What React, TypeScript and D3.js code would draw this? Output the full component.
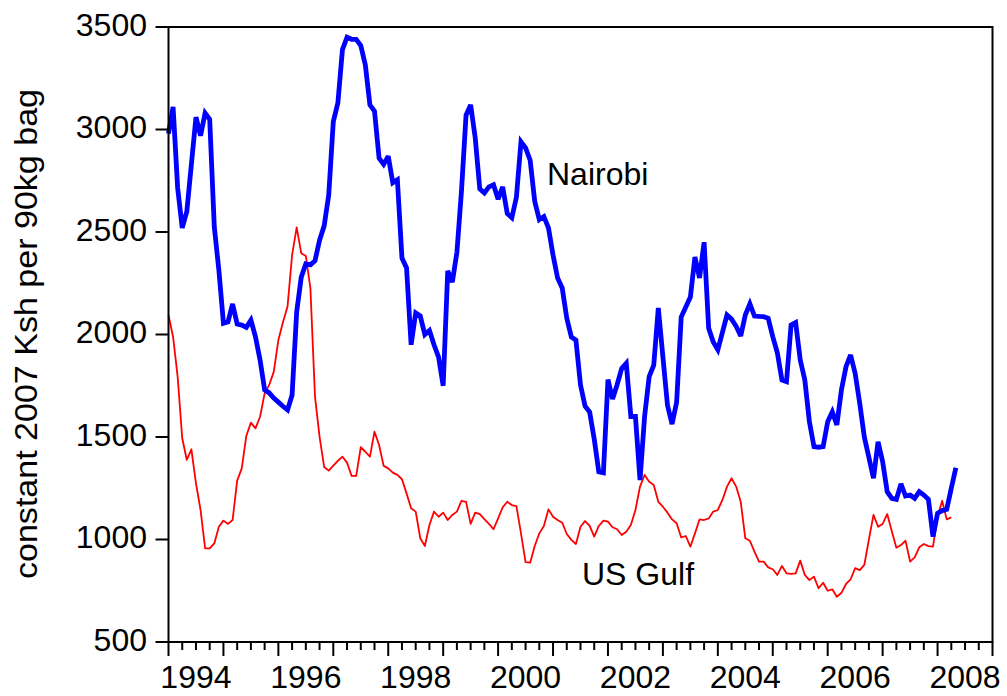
import React from "react";
import * as d3 from "d3";

// Monthly series starting January 1994
const START_YEAR = 1994;
const nairobi: number[] = [
  2980, 3110, 2715, 2520, 2600, 2830, 3060, 2970, 3080, 3050, 2525, 2315,
  2055, 2062, 2149, 2051, 2046, 2035, 2070, 1989, 1876, 1730, 1715, 1690,
  1670, 1650, 1632, 1705, 2110, 2280, 2345, 2340, 2360, 2460, 2530, 2680,
  3038, 3130, 3390, 3450, 3440, 3440, 3410, 3315, 3120, 3090, 2860, 2830,
  2870, 2740, 2755, 2373, 2325, 1950, 2105, 2090, 2000, 2020, 1950, 1890,
  1750, 2310, 2256, 2400, 2700, 3070, 3120, 2960, 2710, 2690, 2720, 2730,
  2660, 2720, 2590, 2570, 2670, 2940, 2910, 2850, 2650, 2560, 2575, 2520,
  2388, 2275, 2227, 2080, 1988, 1973, 1754, 1650, 1622, 1490, 1330, 1325,
  1780, 1685, 1755, 1835, 1860, 1600, 1600, 1290, 1600, 1795, 1850, 2130,
  1890, 1655, 1563, 1670, 2085, 2134, 2183, 2378, 2276, 2450, 2030, 1963,
  1925, 2010, 2095, 2075, 2040, 1993, 2095, 2150, 2090, 2088, 2087, 2079,
  1990, 1911, 1778, 1770, 2046, 2058, 1876, 1778, 1575, 1453, 1450, 1453,
  1575, 1623, 1559, 1730, 1843, 1900, 1810, 1664, 1500, 1400, 1299, 1477,
  1380, 1233, 1201, 1196, 1271, 1212, 1217, 1201, 1233, 1217, 1196, 1014,
  1128, 1141, 1147, 1250, 1350,
];
const usGulf: number[] = [
  2095, 1988, 1793, 1494, 1388, 1440, 1274, 1144, 957, 957, 981, 1062,
  1092, 1076, 1095, 1287, 1347, 1505, 1570, 1542, 1599, 1713, 1754, 1819,
  1973, 2060, 2136, 2388, 2523, 2396, 2383, 2225, 1697, 1501, 1354, 1336,
  1360, 1384, 1404, 1375, 1310, 1310, 1450, 1428, 1404, 1526, 1461, 1359,
  1347, 1326, 1315, 1294, 1225, 1152, 1136, 1006, 968, 1071, 1136, 1111,
  1131, 1095, 1120, 1136, 1189, 1184, 1076, 1131, 1124, 1099, 1076, 1050,
  1103, 1157, 1184, 1168, 1163, 1030, 890, 887, 968, 1030, 1066, 1147,
  1111, 1095, 1082, 1027, 998, 978, 1062, 1090, 1066, 1014, 1066, 1092,
  1087, 1060, 1050, 1022, 1038, 1071, 1144, 1258, 1315, 1282, 1266, 1184,
  1160, 1131, 1098, 1079, 1010, 1017, 965, 1030, 1098, 1095, 1103, 1136,
  1144, 1193, 1258, 1299, 1258, 1184, 1006, 994, 941, 892, 892, 864,
  855, 827, 871, 835, 832, 835, 897, 827, 802, 819, 762, 789,
  750, 757, 721, 740, 783, 806, 860, 851, 876, 1000, 1120, 1062,
  1076, 1124, 1040, 960, 973, 994, 892, 913, 962, 978, 968, 965,
  1111, 1189, 1098, 1108,
];
const yTicks: number[] = [500, 1000, 1500, 2000, 2500, 3000, 3500];
const yearLabels: number[] = [1994, 1996, 1998, 2000, 2002, 2004, 2006, 2008];
const yTitle = "constant 2007 Ksh per 90kg bag";
const seriesLabels = { nairobi: "Nairobi", usGulf: "US Gulf" };

const W = 1007;
const H = 696;
const L = 168.5, R = 992.5, T = 27, B = 642;
const FONT = "'Liberation Sans', Arial, Helvetica, sans-serif";

export default function App() {
  const x = d3.scaleLinear().domain([START_YEAR, 2009]).range([L, R]);
  const y = d3.scaleLinear().domain([500, 3500]).range([B, T]);
  const line = d3
    .line<number>()
    .x((_, i) => x(START_YEAR + i / 12))
    .y((d) => y(d));

  const quarterTicks: number[] = d3.range(0, 15 * 4 + 1).map((q) => START_YEAR + q / 4);

  return (
    <svg
      width={W}
      height={H}
      style={{ position: "absolute", left: 0, top: 0, background: "#fff" }}
      fontFamily={FONT}
    >
      {/* series */}
      <path d={line(usGulf) || ""} fill="none" stroke="#ff0000" strokeWidth={1.8} strokeLinejoin="round" />
      <path d={line(nairobi) || ""} fill="none" stroke="#0000ff" strokeWidth={4.8} strokeLinejoin="miter" strokeMiterlimit={3} />

      {/* frame */}
      <rect x={L} y={T} width={R - L} height={B - T} fill="none" stroke="#000" strokeWidth={2} />

      {/* y axis ticks & labels */}
      {yTicks.map((t) => (
        <g key={t}>
          <line x1={L - 13} x2={L} y1={y(t)} y2={y(t)} stroke="#000" strokeWidth={2} />
          <text x={147} y={y(t) + 8.5} textAnchor="end" fontSize={32} fill="#000">
            {t}
          </text>
        </g>
      ))}

      {/* x axis ticks */}
      {quarterTicks.map((t, i) => (
        <line
          key={i}
          x1={x(t)}
          x2={x(t)}
          y1={B}
          y2={B + (i % 4 === 0 ? 14 : 8)}
          stroke="#000"
          strokeWidth={2}
        />
      ))}
      {yearLabels.map((yr) => (
        <text key={yr} x={x(yr + 0.5)} y={688} textAnchor="middle" fontSize={32} fill="#000">
          {yr}
        </text>
      ))}

      {/* y title */}
      <text
        transform="translate(37,334) rotate(-90)"
        textAnchor="middle"
        fontSize={32}
        fill="#000"
        textLength={490}
        lengthAdjust="spacingAndGlyphs"
      >
        {yTitle}
      </text>

      {/* series labels */}
      <text x={547} y={185} fontSize={32} fill="#000">
        {seriesLabels.nairobi}
      </text>
      <text x={582} y={585} fontSize={32} fill="#000">
        {seriesLabels.usGulf}
      </text>
    </svg>
  );
}
